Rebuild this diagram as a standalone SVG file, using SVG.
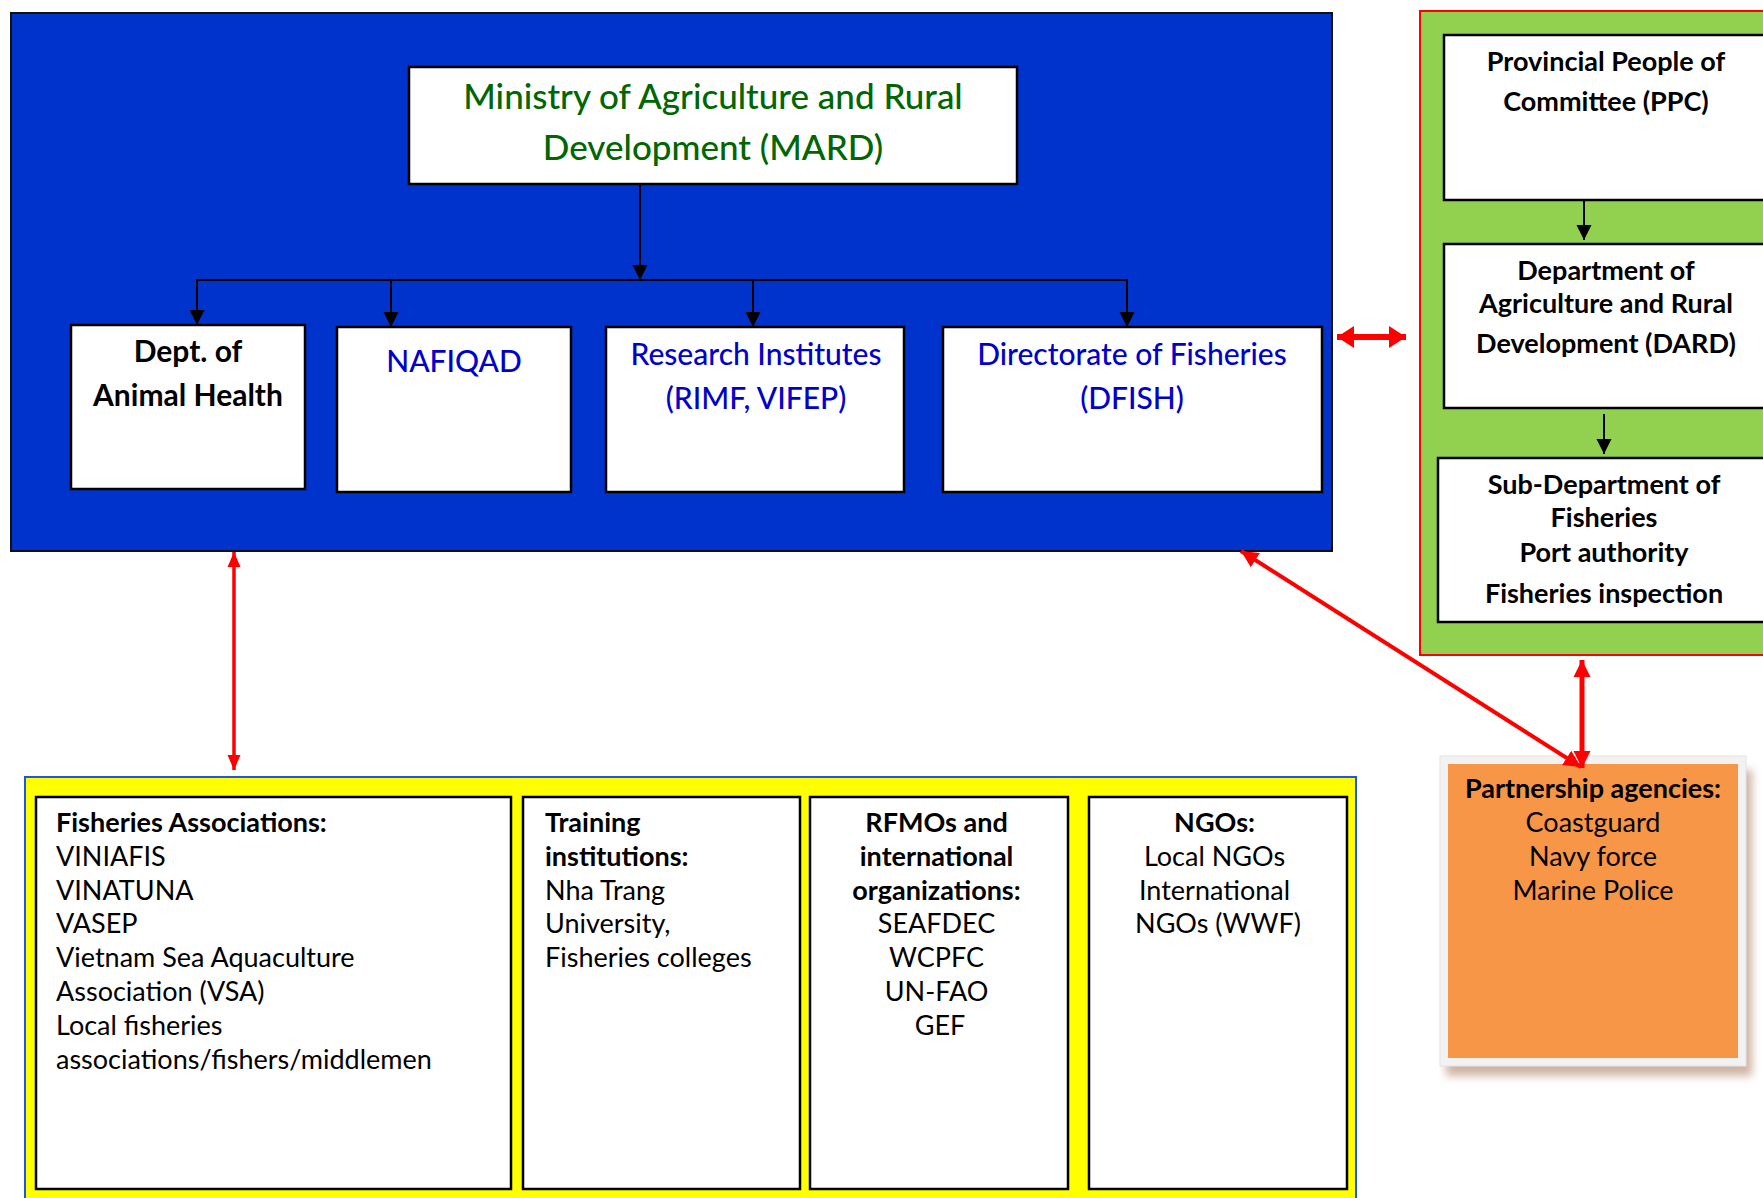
<svg xmlns="http://www.w3.org/2000/svg" width="1763" height="1198" viewBox="0 0 1763 1198">
<defs>
<style>
.t{font-family:Lato,"Open Sans","Liberation Sans",sans-serif;}
.b{font-weight:bold;}
.m{font-weight:500;}
.box{fill:#ffffff;stroke:#000000;stroke-width:2.5;}
.blk{stroke:#000;stroke-width:2;fill:none;}
.red{stroke:#ff0000;fill:none;}
</style>
<marker id="ah" markerUnits="userSpaceOnUse" markerWidth="16" markerHeight="16" refX="15" refY="8" orient="auto" viewBox="0 0 16 16">
<path d="M0,0.5 L15,8 L0,15.5 Z" fill="#000"/>
</marker>
<marker id="rh1" markerUnits="userSpaceOnUse" markerWidth="18" markerHeight="24" refX="17" refY="12" orient="auto-start-reverse" viewBox="0 0 18 24">
<path d="M0,1 L17,12 L0,23 Z" fill="#ff0000"/>
</marker>
<marker id="rh2" markerUnits="userSpaceOnUse" markerWidth="18" markerHeight="18" refX="17" refY="9" orient="auto-start-reverse" viewBox="0 0 18 18">
<path d="M0,0.5 L17,9 L0,17.5 Z" fill="#ff0000"/>
</marker>
<marker id="rh3" markerUnits="userSpaceOnUse" markerWidth="16" markerHeight="14" refX="15" refY="7" orient="auto-start-reverse" viewBox="0 0 16 14">
<path d="M0,0.5 L15,7 L0,13.5 Z" fill="#ff0000"/>
</marker>
<filter id="sh" x="-10%" y="-10%" width="120%" height="120%">
<feGaussianBlur stdDeviation="4"/>
</filter>
</defs>
<rect x="0" y="0" width="1763" height="1198" fill="#ffffff"/>

<!-- containers -->
<g id="mard-group">
<rect x="11" y="13" width="1321" height="538" fill="#0033cc" stroke="#111" stroke-width="2"/>
</g>
<g id="province-group">
<rect x="1420" y="11" width="360" height="644" fill="#92d050" stroke="#ff0000" stroke-width="2"/>
</g>
<g id="stakeholders-group">
<rect x="25" y="777" width="1331" height="440" fill="#ffff00" stroke="#2255dd" stroke-width="2"/>
</g>

<!-- MARD -->
<g id="mard">
<rect x="409" y="67" width="608" height="117" class="box" stroke-width="2"/>
<text class="t m" x="713" y="109" font-size="35" fill="#006600" text-anchor="middle">Ministry of Agriculture and Rural</text>
<text class="t m" x="713" y="160" font-size="35" fill="#006600" text-anchor="middle">Development (MARD)</text>
</g>
<g id="dah">
<rect x="71" y="325" width="234" height="164" class="box"/>
<text class="t b" x="188" y="362" font-size="30" fill="#000" text-anchor="middle">Dept. of</text>
<text class="t b" x="188" y="406" font-size="30" fill="#000" text-anchor="middle">Animal Health</text>
</g>
<g id="nafiqad">
<rect x="337" y="327" width="234" height="165" class="box" stroke-width="2"/>
<text class="t m" x="454" y="372" font-size="30" fill="#0000cc" text-anchor="middle">NAFIQAD</text>
</g>
<g id="research">
<rect x="606" y="327" width="298" height="165" class="box" stroke-width="2"/>
<text class="t m" x="756" y="365" font-size="30" fill="#0000cc" text-anchor="middle">Research Institutes</text>
<text class="t m" x="756" y="409" font-size="30" fill="#0000cc" text-anchor="middle">(RIMF, VIFEP)</text>
</g>
<g id="dfish">
<rect x="943" y="327" width="379" height="165" class="box" stroke-width="2"/>
<text class="t m" x="1132" y="365" font-size="30" fill="#0000cc" text-anchor="middle">Directorate of Fisheries</text>
<text class="t m" x="1132" y="409" font-size="30" fill="#0000cc" text-anchor="middle">(DFISH)</text>
</g>

<!-- Province -->
<g id="ppc">
<rect x="1444" y="35" width="340" height="165" class="box" stroke-width="2"/>
<text class="t b" x="1606" y="71" font-size="27" fill="#000" text-anchor="middle">Provincial People of</text>
<text class="t b" x="1606" y="111" font-size="27" fill="#000" text-anchor="middle">Committee (PPC)</text>
</g>
<g id="dard">
<rect x="1444" y="244" width="340" height="164" class="box" stroke-width="2"/>
<text class="t b" x="1606" y="280" font-size="27" fill="#000" text-anchor="middle">Department of</text>
<text class="t b" x="1606" y="313" font-size="27" fill="#000" text-anchor="middle">Agriculture and Rural</text>
<text class="t b" x="1606" y="353" font-size="27" fill="#000" text-anchor="middle">Development (DARD)</text>
</g>
<g id="subdept">
<rect x="1438" y="458" width="346" height="164" class="box" stroke-width="2"/>
<text class="t b" x="1604" y="494" font-size="27" fill="#000" text-anchor="middle">Sub-Department of</text>
<text class="t b" x="1604" y="527" font-size="27" fill="#000" text-anchor="middle">Fisheries</text>
<text class="t b" x="1604" y="562" font-size="27" fill="#000" text-anchor="middle">Port authority</text>
<text class="t b" x="1604" y="603" font-size="27" fill="#000" text-anchor="middle">Fisheries inspection</text>
</g>

<!-- Partnership -->
<g id="partnership">
<rect x="1446" y="770" width="306" height="306" fill="#a8775a" opacity="0.55" filter="url(#sh)"/>
<rect x="1440" y="756" width="306" height="310" fill="#f2f2f2" stroke="#e4e4e4" stroke-width="1"/>
<rect x="1448" y="764" width="290" height="294" fill="#f79646"/>
<text class="t b" x="1593" y="798" font-size="27" fill="#000" text-anchor="middle">Partnership agencies:</text>
<text class="t" x="1593" y="832" font-size="27" fill="#000" text-anchor="middle">Coastguard</text>
<text class="t" x="1593" y="866" font-size="27" fill="#000" text-anchor="middle">Navy force</text>
<text class="t" x="1593" y="900" font-size="27" fill="#000" text-anchor="middle">Marine Police</text>
</g>

<!-- Stakeholders -->
<g id="fish-assoc">
<rect x="36" y="797" width="475" height="392" class="box"/>
<text class="t" font-size="27" fill="#000">
<tspan class="b" x="56" y="832">Fisheries Associations:</tspan>
<tspan x="56" y="866">VINIAFIS</tspan>
<tspan x="56" y="900">VINATUNA</tspan>
<tspan x="56" y="933">VASEP</tspan>
<tspan x="56" y="967">Vietnam Sea Aquaculture</tspan>
<tspan x="56" y="1001">Association (VSA)</tspan>
<tspan x="56" y="1035">Local fisheries</tspan>
<tspan x="56" y="1069">associations/fishers/middlemen</tspan>
</text>
</g>
<g id="training">
<rect x="523" y="797" width="277" height="392" class="box"/>
<text class="t" font-size="27" fill="#000">
<tspan class="b" x="545" y="832">Training</tspan>
<tspan class="b" x="545" y="866">institutions:</tspan>
<tspan x="545" y="900">Nha Trang</tspan>
<tspan x="545" y="933">University,</tspan>
<tspan x="545" y="967">Fisheries colleges</tspan>
</text>
</g>
<g id="rfmo">
<rect x="810" y="797" width="258" height="392" class="box"/>
<text class="t" font-size="27" fill="#000" text-anchor="middle">
<tspan class="b" x="940" y="832">RFMOs and</tspan>
<tspan class="b" x="940" y="866">international</tspan>
<tspan class="b" x="940" y="900">organizations:</tspan>
<tspan x="940" y="933">SEAFDEC</tspan>
<tspan x="940" y="967">WCPFC</tspan>
<tspan x="940" y="1001">UN-FAO</tspan>
<tspan x="940" y="1035">GEF</tspan>
</text>
</g>
<g id="ngos">
<rect x="1089" y="797" width="258" height="392" class="box"/>
<text class="t" font-size="27" fill="#000" text-anchor="middle">
<tspan class="b" x="1218" y="832">NGOs:</tspan>
<tspan x="1218" y="866">Local NGOs</tspan>
<tspan x="1218" y="900">International</tspan>
<tspan x="1218" y="933">NGOs (WWF)</tspan>
</text>
</g>

<!-- Connectors -->
<g id="connectors">
<line x1="640" y1="184" x2="640" y2="280" class="blk" marker-end="url(#ah)"/>
<polyline points="197,325 197,280 1127,280 1127,327" class="blk"/>
<line x1="197" y1="280" x2="197" y2="325" class="blk" marker-end="url(#ah)"/>
<line x1="391" y1="280" x2="391" y2="327" class="blk" marker-end="url(#ah)"/>
<line x1="753" y1="280" x2="753" y2="327" class="blk" marker-end="url(#ah)"/>
<line x1="1127" y1="280" x2="1127" y2="327" class="blk" marker-end="url(#ah)"/>
<line x1="1584" y1="200" x2="1584" y2="240" class="blk" marker-end="url(#ah)"/>
<line x1="1604" y1="414" x2="1604" y2="454" class="blk" marker-end="url(#ah)"/>
<line x1="1337" y1="337" x2="1406" y2="337" class="red" stroke-width="6" marker-start="url(#rh1)" marker-end="url(#rh1)"/>
<line x1="234" y1="552" x2="234" y2="770" class="red" stroke-width="3.5" marker-start="url(#rh3)" marker-end="url(#rh3)"/>
<line x1="1241" y1="551" x2="1581" y2="767" class="red" stroke-width="4" marker-start="url(#rh2)" marker-end="url(#rh2)"/>
<line x1="1582" y1="660" x2="1582" y2="768" class="red" stroke-width="5" marker-start="url(#rh2)" marker-end="url(#rh2)"/>
</g>
</svg>
